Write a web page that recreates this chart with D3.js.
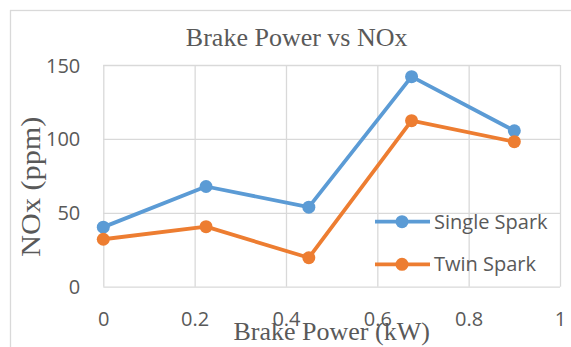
<!DOCTYPE html>
<meta charset="utf-8">
<head>
  <title>Brake Power vs NOx</title>
  <script src="https://cdn.jsdelivr.net/npm/d3@7"></script>
  <style>
    body { margin: 0; background: #fff; }
    .tick text { font-family: "Open Sans", sans-serif; font-size: 20px; fill: #595959; }
    .grid line { stroke: #d9d9d9; stroke-width: 1.3; }
    .grid .domain { display: none; }
    .serif { font-family: "Liberation Serif", "Times New Roman", serif; fill: #595959; }
    .legend text { font-family: "Open Sans", sans-serif; font-size: 20px; fill: #595959; }
  </style>
</head>
<body>
<div id="chart"></div>
<script>
// data
var power = [0, 0.225, 0.45, 0.675, 0.9];
var singleSpark = [40.3, 67.8, 53.8, 142.1, 105.5];
var twinSpark = [32.1, 40.6, 19.6, 112.3, 98.1];
var seriesNames = ["Single Spark", "Twin Spark"];
var seriesColors = ["#5b9bd5", "#ed7d31"];
var xTicks = [0, 0.2, 0.4, 0.6, 0.8, 1];
var yTicks = [0, 50, 100, 150];

var W = 571, H = 347;
var plot = {left: 103.3, right: 560, top: 65, bottom: 286.7};

var svg = d3.select("#chart").append("svg")
    .attr("width", W)
    .attr("height", H);

// outer chart frame
svg.append("rect")
    .attr("x", 10.5).attr("y", 10.5)
    .attr("width", 600).attr("height", 400)
    .attr("fill", "#fff")
    .attr("stroke", "#d9d9d9")
    .attr("stroke-width", 1.3);

var x = d3.scaleLinear().domain([0, 1]).range([plot.left, plot.right]);
var y = d3.scaleLinear().domain([0, 150]).range([plot.bottom, plot.top]);

// horizontal grid + y labels
svg.append("g")
    .attr("class", "grid")
    .attr("transform", "translate(" + plot.left + ",0)")
    .call(d3.axisLeft(y).tickValues(yTicks).tickSize(-(plot.right - plot.left)).tickPadding(23))
    .selectAll("text").attr("dy", "0.35em");

// vertical grid + x labels
var xg = svg.append("g")
    .attr("class", "grid")
    .attr("transform", "translate(0," + plot.bottom + ")")
    .call(d3.axisBottom(x).tickValues(xTicks).tickFormat(d3.format("")).tickSize(-(plot.bottom - plot.top)).tickPadding(20));
xg.selectAll("text").attr("y", 32).attr("dy", "0.35em");

// lines
var line = d3.line()
    .x(function(d, i) { return x(power[i]); })
    .y(function(d) { return y(d); });

[singleSpark, twinSpark].forEach(function(vals, k) {
    svg.append("path")
        .datum(vals)
        .attr("fill", "none")
        .attr("stroke", seriesColors[k])
        .attr("stroke-width", 3.8)
        .attr("stroke-linejoin", "round")
        .attr("d", line);
    svg.append("g").selectAll("circle")
        .data(vals)
        .enter().append("circle")
        .attr("cx", function(d, i) { return x(power[i]); })
        .attr("cy", function(d) { return y(d); })
        .attr("r", 6.5)
        .attr("fill", seriesColors[k]);
});

// legend
var legend = svg.append("g").attr("class", "legend");
var legendY = [221.7, 264.3];
seriesNames.forEach(function(name, k) {
    var g = legend.append("g").attr("transform", "translate(375," + legendY[k] + ")");
    g.append("line")
        .attr("x1", 0).attr("x2", 55)
        .attr("stroke", seriesColors[k])
        .attr("stroke-width", 3.8);
    g.append("circle")
        .attr("cx", 27).attr("r", 6.5)
        .attr("fill", seriesColors[k]);
    g.append("text")
        .attr("x", 59).attr("y", 7)
        .text(name);
});

// title and axis titles
svg.append("text")
    .attr("class", "serif")
    .attr("x", 296.7).attr("y", 45.7)
    .attr("text-anchor", "middle")
    .style("font-size", "26px")
    .text("Brake Power vs NOx");

svg.append("text")
    .attr("class", "serif")
    .attr("x", (plot.left + plot.right) / 2).attr("y", 340)
    .attr("text-anchor", "middle")
    .style("font-size", "26px")
    .text("Brake Power (kW)");

svg.append("text")
    .attr("class", "serif")
    .attr("transform", "translate(39.5,186.7) rotate(-90)")
    .attr("text-anchor", "middle")
    .attr("textLength", 140)
    .attr("lengthAdjust", "spacingAndGlyphs")
    .style("font-size", "27px")
    .text("NOx (ppm)");
</script>
</body>
